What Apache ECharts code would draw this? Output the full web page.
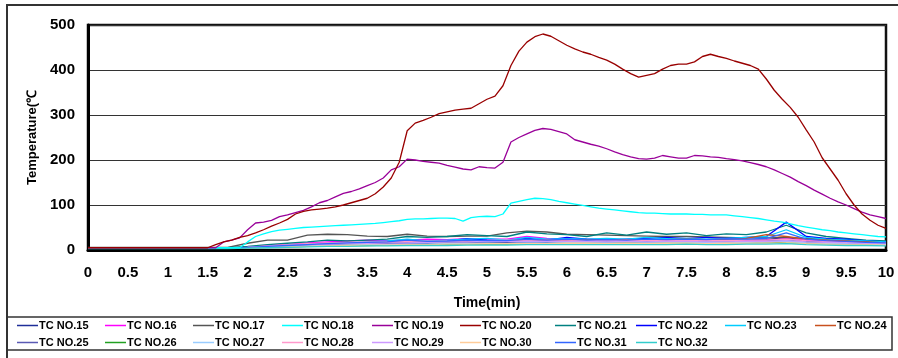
<!DOCTYPE html>
<html>
<head>
<meta charset="utf-8">
<script src="https://cdn.jsdelivr.net/npm/echarts@6/dist/echarts.min.js"></script>
<style>html,body{margin:0;padding:0;background:#fff;}#c{width:898px;height:358px;}</style>
</head>
<body>
<div id="c"></div>
<script>
// time grids (min)
const tFine = [0,0.1,0.2,0.3,0.4,0.5,0.6,0.7,0.8,0.9,1,1.1,1.2,1.3,1.4,1.5,1.6,1.7,1.8,1.9,2,2.1,2.2,2.3,2.4,2.5,2.6,2.7,2.8,2.9,3,3.1,3.2,3.3,3.4,3.5,3.6,3.7,3.8,3.9,4,4.1,4.2,4.3,4.4,4.5,4.6,4.7,4.8,4.9,5,5.1,5.2,5.3,5.4,5.5,5.6,5.7,5.8,5.9,6,6.1,6.2,6.3,6.4,6.5,6.6,6.7,6.8,6.9,7,7.1,7.2,7.3,7.4,7.5,7.6,7.7,7.8,7.9,8,8.1,8.2,8.3,8.4,8.5,8.6,8.7,8.8,8.9,9,9.1,9.2,9.3,9.4,9.5,9.6,9.7,9.8,9.9,10];
const tCoarse = [0,0.25,0.5,0.75,1,1.25,1.5,1.75,2,2.25,2.5,2.75,3,3.25,3.5,3.75,4,4.25,4.5,4.75,5,5.25,5.5,5.75,6,6.25,6.5,6.75,7,7.25,7.5,7.75,8,8.25,8.5,8.75,9,9.25,9.5,9.75,10];

// fine-grid series
const tc18 = [5,5,5,5,5,5,5,5,5,5,5,5,5,5,5,5,5,5,5,5,18,30,36,41,44,46,48,50,51,52,53,54,55,56,57,58,59,61,63,65,68,69,69,70,71,71,70,64,72,74,75,74,80,104,108,112,115,114,112,108,105,102,99,96,93,91,89,87,85,83,82,82,81,80,80,80,79,79,78,78,78,76,74,72,70,67,64,62,58,54,51,48,45,43,40,38,36,34,32,30,29];
const tc19 = [5,5,5,5,5,5,5,5,5,5,5,5,5,5,5,5,5,18,22,27,45,60,62,66,74,78,83,88,96,105,110,118,126,130,136,143,150,160,178,185,202,200,197,195,193,188,184,180,178,185,183,182,195,240,250,258,266,270,268,263,258,245,240,235,231,225,218,212,207,203,202,204,210,207,204,204,210,209,207,206,203,201,198,194,190,185,178,170,162,152,143,133,124,115,107,100,92,84,78,74,70];
const tc20 = [5,5,5,5,5,5,5,5,5,5,5,5,5,5,5,5,12,18,22,28,32,38,45,53,60,68,80,86,89,91,93,96,100,105,110,115,125,140,160,195,265,282,288,295,303,307,311,313,315,325,335,342,365,410,442,462,474,480,475,465,455,447,440,435,428,422,413,402,392,384,388,392,402,410,413,413,418,430,435,430,426,420,415,410,402,380,355,335,317,295,267,240,205,180,155,125,100,80,66,55,48];

// coarse-grid series
const tc15 = [5,5,5,5,5,5,5,5,6,9,12,14,15,16,17,18,18,19,20,19,20,21,24,21,22,21,21,22,21,22,22,23,22,22,23,28,20,18,16,15,14];
const tc16 = [5,5,5,5,5,5,5,5,6,10,12,16,18,20,22,21,22,24,23,25,24,24,30,26,25,24,24,23,22,24,23,22,22,21,22,25,22,20,18,16,15];
const tc17 = [6,6,6,6,6,6,6,6,15,22,22,33,35,34,31,30,35,31,30,31,31,38,42,40,35,34,33,32,31,30,30,29,28,27,27,28,26,24,22,20,18];
const tc21 = [5,5,5,5,5,5,5,5,8,12,15,18,22,20,22,24,30,28,30,34,32,30,40,36,34,30,38,33,40,35,38,32,36,34,40,55,38,30,26,22,20];
const tc22 = [5,5,5,5,5,5,5,5,6,8,10,12,14,15,16,18,22,20,20,25,22,20,26,22,28,24,22,24,26,28,25,28,26,28,30,62,30,26,24,20,18];
const tc23 = [5,5,5,5,5,5,5,5,6,8,10,12,14,16,18,20,24,20,22,24,26,22,28,24,25,24,26,24,28,25,26,24,26,28,30,45,28,24,22,20,18];
const tc24 = [5,5,5,5,5,5,5,5,6,8,10,12,14,15,16,17,18,18,19,20,20,21,22,22,23,22,22,23,22,23,24,23,24,26,34,30,24,22,20,18,16];
const tc25 = [5,5,5,5,5,5,5,5,6,7,9,11,12,13,14,14,15,15,16,16,17,17,18,17,18,18,18,17,18,18,19,18,18,19,20,22,18,16,15,14,13];
const tc26 = [4,4,4,4,4,4,4,4,5,6,7,8,9,10,10,11,11,12,12,13,13,13,14,14,14,14,15,15,15,15,15,15,16,16,18,16,15,14,13,12,12];
const tc27 = [4,4,4,4,4,4,4,4,5,6,8,9,10,11,12,12,13,13,14,14,15,14,15,15,16,15,16,15,16,16,16,17,16,17,18,20,16,15,14,13,12];
const tc28 = [5,5,5,5,5,5,5,5,6,9,12,14,16,17,18,18,19,20,20,21,21,22,23,22,22,21,21,22,21,21,22,21,21,22,22,24,21,19,17,16,15];
const tc29 = [5,5,5,5,5,5,5,5,6,8,10,12,13,14,15,16,16,17,18,18,19,19,20,19,19,19,18,19,18,19,19,18,18,19,19,21,18,17,16,15,14];
const tc30 = [4,4,4,4,4,4,4,4,5,6,7,8,9,10,11,11,12,12,13,13,14,14,14,14,15,15,14,15,14,15,15,14,15,15,15,16,14,13,12,12,11];
const tc31 = [5,5,5,5,5,5,5,5,6,8,10,12,14,16,17,18,22,19,20,22,21,21,24,22,24,22,23,22,24,23,24,23,25,24,26,38,24,21,19,17,16];
const tc32 = [3,3,3,3,3,3,3,3,4,5,6,7,8,8,9,9,10,10,10,11,11,11,12,12,12,12,12,12,12,12,13,12,12,13,13,14,12,11,10,10,9];

const seriesNames = ['TC NO.15','TC NO.16','TC NO.17','TC NO.18','TC NO.19','TC NO.20','TC NO.21','TC NO.22','TC NO.23','TC NO.24','TC NO.25','TC NO.26','TC NO.27','TC NO.28','TC NO.29','TC NO.30','TC NO.31','TC NO.32'];
const seriesValues = [tc15,tc16,tc17,tc18,tc19,tc20,tc21,tc22,tc23,tc24,tc25,tc26,tc27,tc28,tc29,tc30,tc31,tc32];
const seriesTimes = [tCoarse,tCoarse,tCoarse,tFine,tFine,tFine,tCoarse,tCoarse,tCoarse,tCoarse,tCoarse,tCoarse,tCoarse,tCoarse,tCoarse,tCoarse,tCoarse,tCoarse];
const seriesColors = ['#1f2f99','#ff00ff','#555555','#00ffff','#990099','#990000','#008080','#0000ff','#00ccff','#c8501e','#5a5ab4','#22a022','#99ccff','#ff99cc','#cc99ff','#ffcc99','#3366ff','#33cccc'];

const legendCols = [17,105,193,282,372,460,555,636,725,815];
const FONT = "'Liberation Sans', Arial, sans-serif";

const series = seriesNames.map((n, i) => ({
  name: n,
  type: 'line',
  symbol: 'none',
  data: seriesValues[i].map((v, j) => [seriesTimes[i][j], v]),
  lineStyle: { color: seriesColors[i], width: 1.3 },
  itemStyle: { color: seriesColors[i] },
  z: (i === 4 || i === 5 || i === 3) ? 5 : 3,
  animation: false
}));

const legends = seriesNames.map((n, i) => ({
  data: [{ name: n, icon: 'rect' }],
  left: legendCols[i % 10],
  top: i < 10 ? 320 : 337,
  itemWidth: 21,
  itemHeight: 1.5,
  itemGap: 0,
  padding: 0,
  selectedMode: false,
  textStyle: { fontFamily: FONT, fontWeight: 'bold', fontSize: 11, color: '#000', padding: [0, 0, 0, -4] }
}));

const chart = echarts.init(document.getElementById('c'), null, { renderer: 'canvas' });
chart.setOption({
  animation: false,
  backgroundColor: '#fff',
  grid: { left: 88, top: 25, right: 12, bottom: 108, show: true, borderColor: '#111', borderWidth: 2.5 },
  legend: legends,
  xAxis: {
    type: 'value', min: 0, max: 10, interval: 0.5,
    name: 'Time(min)', nameLocation: 'middle', nameGap: 46,
    nameTextStyle: { fontFamily: FONT, fontWeight: 'bold', fontSize: 14, color: '#000' },
    axisLine: { show: true, lineStyle: { color: '#000', width: 3 } },
    axisTick: { show: false },
    splitLine: { show: false },
    axisLabel: { margin: 15, fontFamily: FONT, fontWeight: 'bold', fontSize: 15, color: '#000' }
  },
  yAxis: {
    type: 'value', min: 0, max: 500, interval: 100,
    name: 'Temperature(℃', nameLocation: 'middle', nameGap: 48, nameRotate: 90,
    nameTextStyle: { fontFamily: FONT, fontWeight: 'bold', fontSize: 13, color: '#000' },
    axisLine: { show: true, lineStyle: { color: '#000', width: 3 } },
    axisTick: { show: false },
    splitLine: { show: true, lineStyle: { color: '#333', width: 1 } },
    axisLabel: { margin: 13, fontFamily: FONT, fontWeight: 'bold', fontSize: 15, color: '#000' }
  },
  graphic: [
    { type: 'rect', shape: { x: 7, y: 5, width: 900, height: 370 }, style: { fill: 'none', stroke: '#333', lineWidth: 2 }, silent: true },
    { type: 'rect', shape: { x: 7, y: 317, width: 885, height: 33 }, style: { fill: 'none', stroke: '#333', lineWidth: 1.5 }, silent: true }
  ],
  series: series
});
</script>
</body>
</html>
